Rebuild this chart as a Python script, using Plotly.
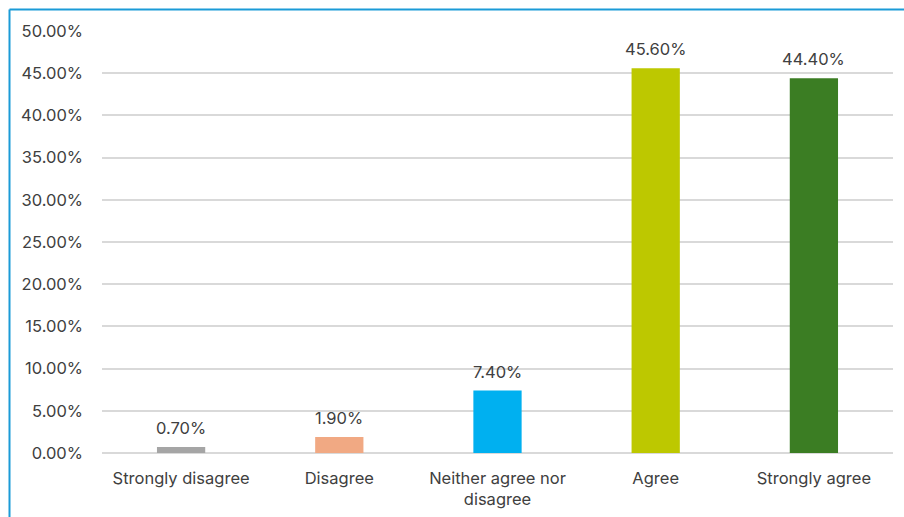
import plotly.graph_objects as go

# Survey response distribution
categories = ["Strongly disagree", "Disagree", "Neither agree nor disagree", "Agree", "Strongly agree"]
tick_labels = ["Strongly disagree", "Disagree", "Neither agree nor<br>disagree", "Agree", "Strongly agree"]
shares = [0.70, 1.90, 7.40, 45.60, 44.40]
bar_colors = ["#A5A5A5", "#F1A983", "#00B0F0", "#BDC800", "#3B7D23"]
y_ticks = [0, 5, 10, 15, 20, 25, 30, 35, 40, 45, 50]

W, H = 904, 517
ML, MR, MT, MB = 102, 11, 31, 64
FONT = "Inter, Open Sans, Arial, sans-serif"
TEXT = "#404040"
FS = 16.5

fig = go.Figure(
    go.Bar(
        x=categories,
        y=shares,
        marker=dict(color=bar_colors, line=dict(width=0)),
        hoverinfo="skip",
    )
)

# Value labels above each bar
for cat, v in zip(categories, shares):
    fig.add_annotation(
        x=cat, y=v, text=f"{v:.2f}%", showarrow=False,
        yanchor="middle", yshift=19,
        font=dict(family=FONT, size=FS, color=TEXT),
    )

fig.update_layout(
    width=W,
    height=H,
    margin=dict(l=ML, r=MR, t=MT, b=MB),
    paper_bgcolor="white",
    plot_bgcolor="white",
    bargap=0.695,
    showlegend=False,
    font=dict(family=FONT, size=FS, color=TEXT),
)

fig.update_xaxes(
    tickmode="array",
    tickvals=categories,
    ticktext=tick_labels,
    showline=False,
    showgrid=False,
    ticks="",
    ticklabelstandoff=13,
    automargin=False,
    tickfont=dict(family=FONT, size=FS, color=TEXT),
)

fig.update_yaxes(
    range=[0, 50],
    tickmode="array",
    tickvals=y_ticks,
    ticktext=[f"{v:.2f}%" for v in y_ticks],
    showgrid=True,
    gridcolor="#D9D9D9",
    gridwidth=1.5,
    zeroline=True,
    zerolinecolor="#D9D9D9",
    zerolinewidth=1.5,
    showline=False,
    ticks="",
    ticklabelstandoff=18,
    automargin=False,
    tickfont=dict(family=FONT, size=FS, color=TEXT),
)

# Frame accent along the top and left edges of the chart area
pw = W - ML - MR
ph = H - MT - MB
x_left = (9.5 - ML) / pw
y_top = (H - MB - 9.5) / ph
y_bottom = (H - MB - H - 5) / ph
x_right = (W + 5 - ML) / pw
fig.add_shape(type="line", xref="paper", yref="paper",
              x0=x_left, x1=x_left, y0=y_bottom, y1=y_top,
              line=dict(color="#1B9BD7", width=2))
fig.add_shape(type="line", xref="paper", yref="paper",
              x0=x_left, x1=x_right, y0=y_top, y1=y_top,
              line=dict(color="#1B9BD7", width=2))

fig.write_html("out.html")
